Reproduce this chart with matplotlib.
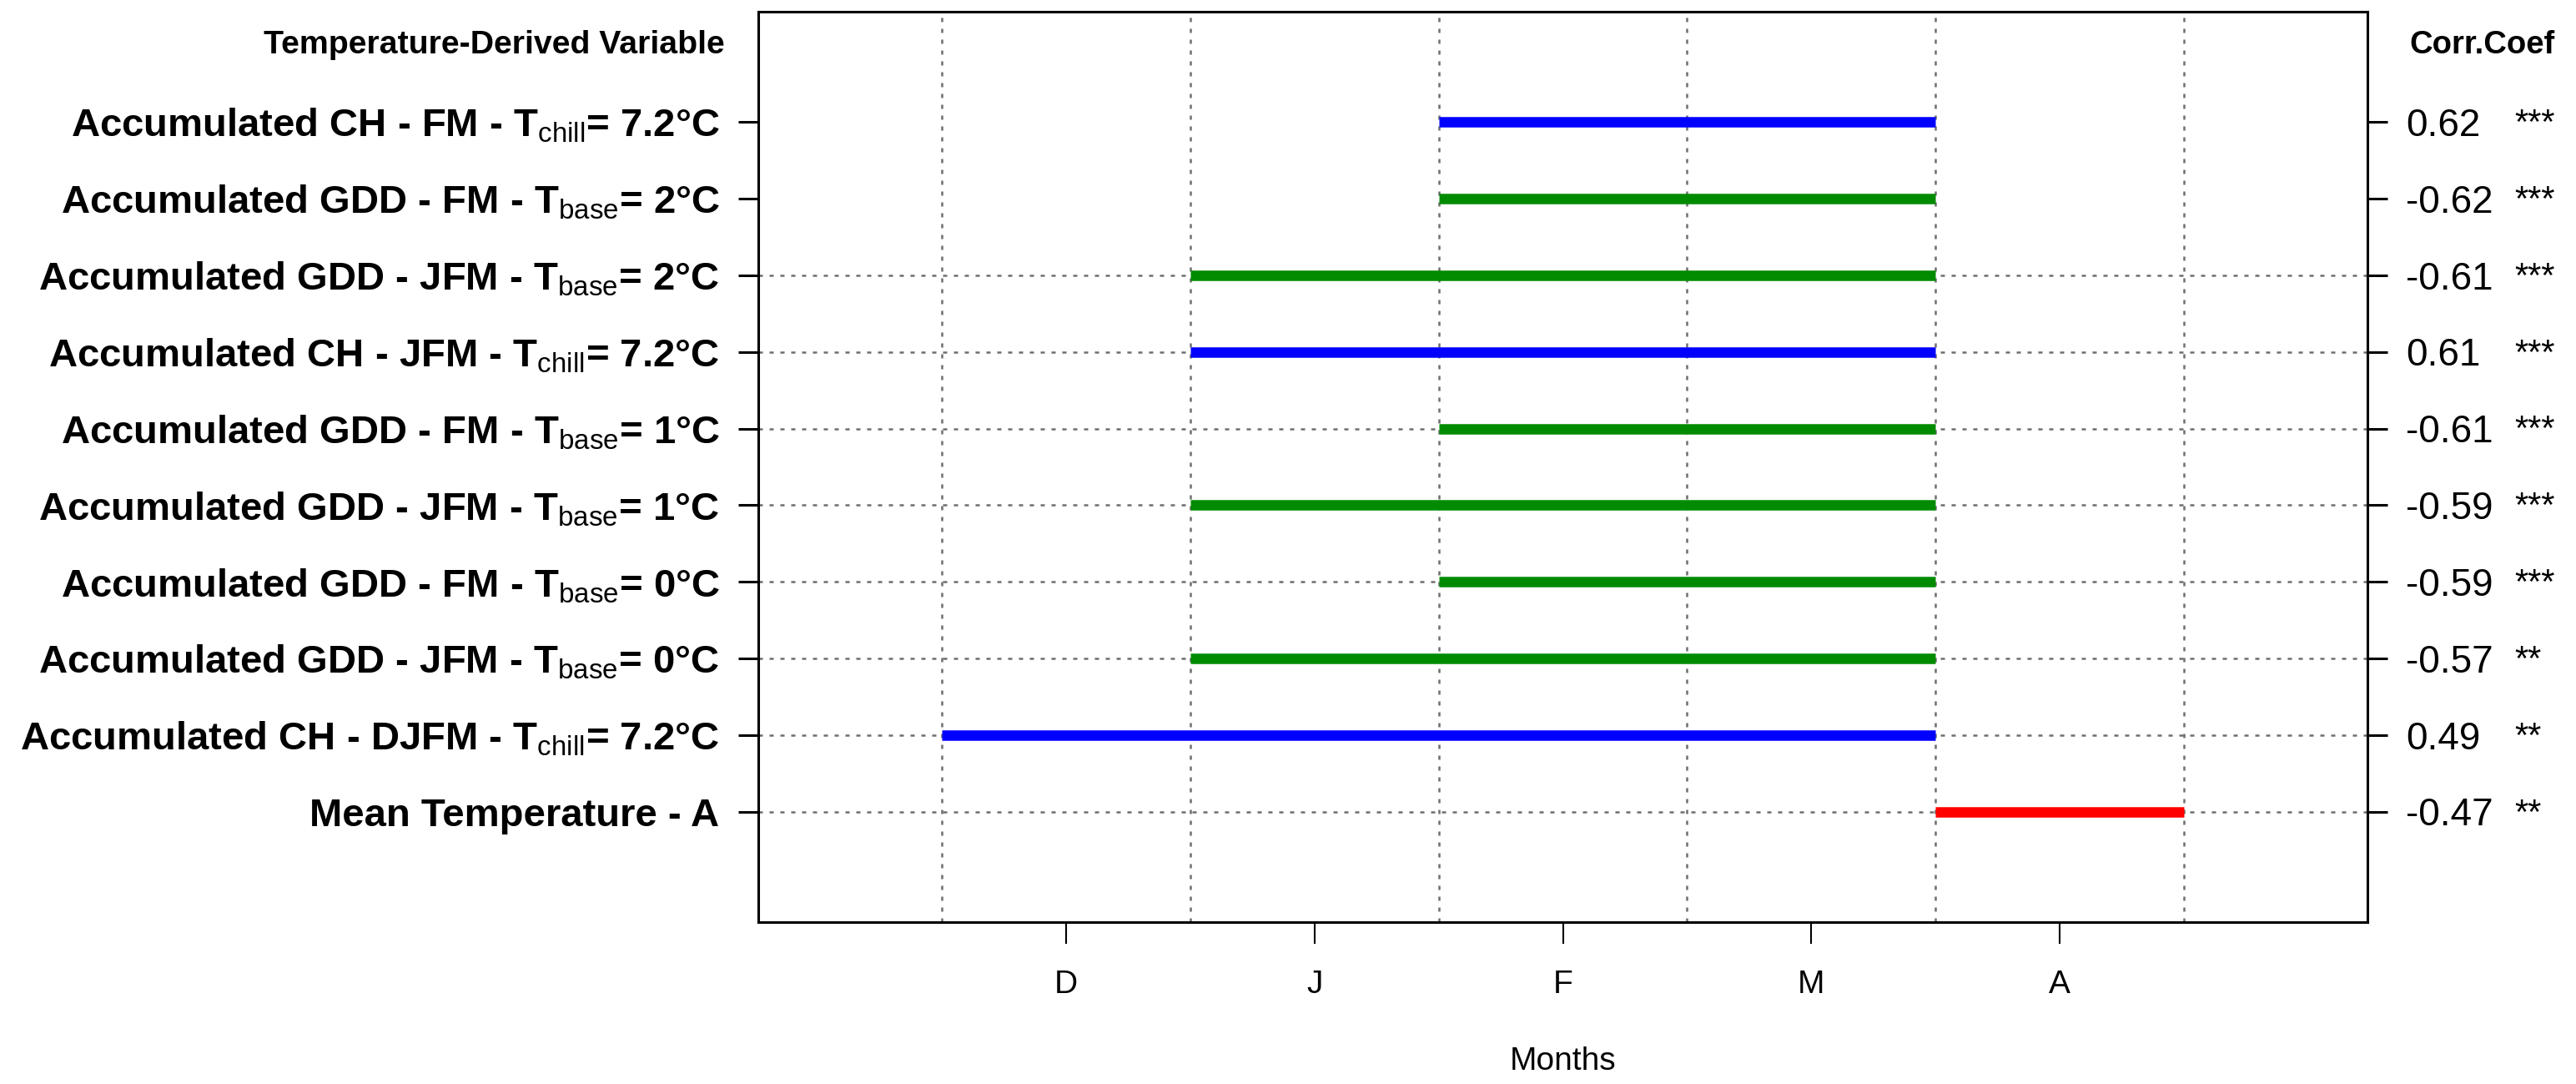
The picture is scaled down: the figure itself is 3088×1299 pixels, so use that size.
import numpy as np
import matplotlib
matplotlib.use('Agg')
import matplotlib.pyplot as plt

plt.rcParams['font.family'] = ['Liberation Sans', 'DejaVu Sans']
plt.rcParams['mathtext.fontset'] = 'custom'
plt.rcParams['mathtext.rm'] = 'Liberation Sans'
plt.rcParams['mathtext.it'] = 'Liberation Sans:italic'
plt.rcParams['mathtext.bf'] = 'Liberation Sans:bold'

## data (top row first)
months = ['D', 'J', 'F', 'M', 'A']
variables = [r'Accumulated CH - FM - T$_{\mathrm{chill}}$= 7.2°C',
             r'Accumulated GDD - FM - T$_{\mathrm{base}}$= 2°C',
             r'Accumulated GDD - JFM - T$_{\mathrm{base}}$= 2°C',
             r'Accumulated CH - JFM - T$_{\mathrm{chill}}$= 7.2°C',
             r'Accumulated GDD - FM - T$_{\mathrm{base}}$= 1°C',
             r'Accumulated GDD - JFM - T$_{\mathrm{base}}$= 1°C',
             r'Accumulated GDD - FM - T$_{\mathrm{base}}$= 0°C',
             r'Accumulated GDD - JFM - T$_{\mathrm{base}}$= 0°C',
             r'Accumulated CH - DJFM - T$_{\mathrm{chill}}$= 7.2°C',
             'Mean Temperature - A']
start_month = ['F', 'F', 'J', 'J', 'F', 'J', 'F', 'J', 'D', 'A']
end_month = ['M', 'M', 'M', 'M', 'M', 'M', 'M', 'M', 'M', 'A']
corr_coef = ['0.62', '-0.62', '-0.61', '0.61', '-0.61', '-0.59', '-0.59', '-0.57', '0.49', '-0.47']
signif = ['***', '***', '***', '***', '***', '***', '***', '**', '**', '**']
bar_colors = ['#0000FF', '#008B00', '#008B00', '#0000FF', '#008B00',
              '#008B00', '#008B00', '#008B00', '#0000FF', '#FF0000']

n = len(variables)
ypos = np.arange(n, 0, -1)          # top row = 10, bottom row = 1
xpos = {m: i + 1 for i, m in enumerate(months)}

fig = plt.figure(figsize=(30.88, 12.99), dpi=100)
ax = fig.add_axes([909/3088, 1 - 1105/1299, (2838-909)/3088, (1105-14)/1299])

ax.set_xlim(-0.24, 6.24)
ax.set_ylim(-0.44, 11.44)

grid_col = '#6E6E6E'
# vertical grid between months
for gx in np.arange(0.5, 6.0, 1.0):
    ax.axvline(gx, color=grid_col, lw=1.8, dashes=(2.0, 3.2), zorder=1)
# horizontal guides on the lower rows
for gy in range(1, 9):
    ax.axhline(gy, color=grid_col, lw=1.8, dashes=(2.0, 3.2), zorder=1)

## bars
for i in range(n):
    x0 = xpos[start_month[i]] - 0.5
    x1 = xpos[end_month[i]] + 0.5
    ax.plot([x0, x1], [ypos[i], ypos[i]], color=bar_colors[i], lw=9.0,
            solid_capstyle='butt', zorder=3)

## axes
for sp in ax.spines.values():
    sp.set_linewidth(2.2)

ax.set_yticks(ypos)
ax.set_yticklabels(variables, fontsize=34, fontweight='bold')
ax.tick_params(axis='y', left=True, right=True, direction='out', length=17.5,
               width=2.2, pad=16)

ax.set_xticks([xpos[m] for m in months])
ax.set_xticklabels(months, fontsize=28)
ax.tick_params(axis='x', direction='out', length=19, width=1.5, pad=22)
ax.set_xlabel('Months', fontsize=28, labelpad=40)

## headers and right-side values
ax.text(-0.021, 11, 'Temperature-Derived Variable', transform=ax.get_yaxis_transform(),
        ha='right', va='center', fontsize=28.3, fontweight='bold')
ax.text(1.026, 11, 'Corr.Coef', transform=ax.get_yaxis_transform(),
        ha='left', va='center', fontsize=27.5, fontweight='bold')
for i in range(n):
    ax.text(1.024, ypos[i] - 0.05, corr_coef[i], transform=ax.get_yaxis_transform(),
            ha='left', va='center', fontsize=33, clip_on=False)
    ax.text(1.0913, ypos[i] - 0.03, signif[i], transform=ax.get_yaxis_transform(),
            ha='left', va='center', fontsize=30, clip_on=False)

fig.savefig('out.png', dpi=100)
